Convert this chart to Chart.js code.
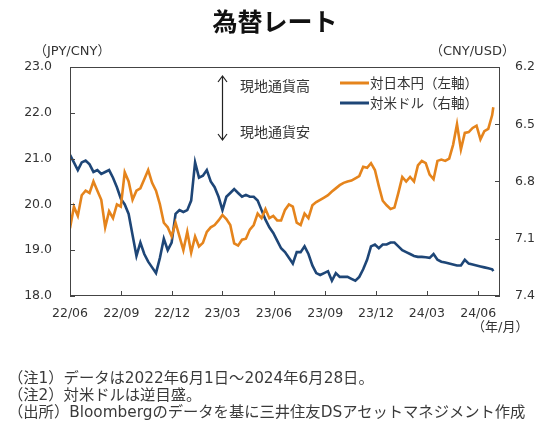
<!DOCTYPE html>
<html>
<head>
<meta charset="utf-8">
<script src="https://cdn.jsdelivr.net/npm/chart.js@4.4.1/dist/chart.umd.min.js"></script>
<style>
  body { margin: 0; background: #fff; }
  #wrap { position: relative; width: 550px; height: 437px; font-family: "Noto Sans CJK JP", sans-serif; color: #333; }
  #wrap canvas { position: absolute; left: 0; top: 0; }
  .t { position: absolute; white-space: nowrap; line-height: 1; }
  #title { left: 0; width: 550px; text-align: center; top: 8px; font-size: 25px; font-weight: 700; color: #111; }
  .unit { top: 44px; font-size: 13px; font-family: "DejaVu Sans", "Noto Sans CJK JP", sans-serif; }
  .note { left: 8px; font-size: 15.3px; font-family: "DejaVu Sans", "Noto Sans CJK JP", sans-serif; color: #3a3a3a; }
</style>
</head>
<body>
<div id="wrap">
  <canvas id="chart" width="550" height="437"></canvas>
  <div class="t" id="title">為替レート</div>
  <div class="t unit" style="left:34px">（JPY/CNY）</div>
  <div class="t unit" style="left:430px">（CNY/USD）</div>
  <div class="t unit" style="left:472px;top:320px">（年/月）</div>
  <div class="t note" style="top:371px">（注1）データは2022年6月1日～2024年6月28日。</div>
  <div class="t note" style="top:388px">（注2）対米ドルは逆目盛。</div>
  <div class="t note" style="top:405px">（出所）Bloombergのデータを基に三井住友DSアセットマネジメント作成</div>
</div>
<script>
// weekly readings from 2022-06-01, last point is 2024-06-28
const jpyCny = [
  19.48, 19.95, 19.75, 20.2, 20.3, 20.25, 20.5, 20.3, 20.1, 19.5,
  19.85, 19.7, 20.0, 19.95, 20.7, 20.5, 20.1, 20.3, 20.35, 20.55,
  20.75, 20.47, 20.3, 20.0, 19.6, 19.5, 19.3, 19.6, 19.3, 19.0,
  19.4, 18.95, 19.3, 19.08, 19.16, 19.4, 19.5, 19.55, 19.65, 19.77,
  19.68, 19.55, 19.15, 19.1, 19.23, 19.25, 19.45, 19.55, 19.8, 19.7,
  19.9, 19.7, 19.75, 19.65, 19.65, 19.88, 20.0, 19.95, 19.6, 19.55,
  19.8, 19.7, 19.98, 20.05, 20.1, 20.15, 20.2, 20.28, 20.35, 20.42,
  20.47, 20.5, 20.52, 20.57, 20.62, 20.82, 20.8, 20.9, 20.75, 20.4,
  20.08, 19.98, 19.9, 19.93, 20.25, 20.6, 20.5, 20.6, 20.5, 20.85,
  20.95, 20.9, 20.65, 20.55, 20.95, 20.98, 20.95, 21.0, 21.3, 21.75,
  21.2, 21.56, 21.58, 21.67, 21.72, 21.42, 21.6, 21.65, 21.95,
  22.12
];
const cnyUsd = [
  6.66, 6.70, 6.74, 6.70, 6.69, 6.71, 6.75, 6.74, 6.76, 6.75,
  6.74, 6.78, 6.83, 6.89, 6.92, 6.97, 7.08, 7.19, 7.12, 7.18,
  7.22, 7.25, 7.28, 7.20, 7.10, 7.16, 7.12, 6.97, 6.95, 6.96,
  6.95, 6.90, 6.70, 6.78, 6.77, 6.74, 6.80, 6.83, 6.88, 6.95,
  6.88, 6.86, 6.84, 6.86, 6.88, 6.87, 6.88, 6.88, 6.90, 6.95,
  7.00, 7.04, 7.07, 7.11, 7.15, 7.17, 7.20, 7.23, 7.17, 7.17,
  7.14, 7.18, 7.24, 7.28, 7.29, 7.28, 7.27, 7.32, 7.28, 7.30,
  7.30, 7.30, 7.31, 7.32, 7.30, 7.26, 7.21, 7.14, 7.13, 7.15,
  7.13, 7.13, 7.12, 7.12, 7.14, 7.16, 7.17, 7.18, 7.19, 7.195,
  7.195, 7.197, 7.20, 7.18, 7.21, 7.22, 7.225, 7.23, 7.235, 7.24,
  7.24, 7.21, 7.23, 7.235, 7.24, 7.245, 7.25, 7.255, 7.26,
  7.27
];
const seriesNames = ['対日本円（左軸）', '対米ドル（右軸）'];
const tickDates = ['2022-06-01','2022-09-01','2022-12-01','2023-03-01','2023-06-01','2023-09-01','2023-12-01','2024-03-01','2024-06-01'];
const tickLabels = ['22/06','22/09','22/12','23/03','23/06','23/09','23/12','24/03','24/06'];
const leftTicks = [18.0, 19.0, 20.0, 21.0, 22.0, 23.0];
const rightTicks = [6.2, 6.5, 6.8, 7.1, 7.4];

const start = Date.UTC(2022, 5, 1);
function dayOf(s) {
  const p = s.split('-');
  return Math.round((Date.UTC(+p[0], +p[1] - 1, +p[2]) - start) / 86400000);
}
const days = [];
for (let i = 0; i < jpyCny.length - 1; i++) days.push(i * 7);
days.push(dayOf('2024-06-28'));
const tickDays = tickDates.map(dayOf);

const ORANGE = '#E5841C';
const BLUE = '#1E4677';
const tickFont = { family: 'DejaVu Sans', size: 12.5 };

const extras = {
  id: 'extras',
  afterDraw(chart) {
    const c = chart.ctx, a = chart.chartArea, s = chart.scales;
    c.save();
    // frame
    c.strokeStyle = '#444'; c.lineWidth = 1;
    c.strokeRect(a.left + 0.5, a.top + 0.5, a.right - a.left - 1, a.bottom - a.top - 1);
    // inward ticks
    c.beginPath();
    tickDays.forEach(d => { const x = Math.round(s.x.getPixelForValue(d)) + 0.5; c.moveTo(x, a.bottom); c.lineTo(x, a.bottom - 5); });
    leftTicks.forEach(v => { const y = Math.round(s.y.getPixelForValue(v)) + 0.5; c.moveTo(a.left, y); c.lineTo(a.left + 5, y); });
    rightTicks.forEach(v => { const y = Math.round(s.y1.getPixelForValue(v)) + 0.5; c.moveTo(a.right, y); c.lineTo(a.right - 5, y); });
    c.stroke();
    // legend
    c.font = '13.5px "Noto Sans CJK JP"';
    c.textBaseline = 'middle';
    chart.data.datasets.forEach((ds, i) => {
      const y = a.top + 16 + i * 20;
      c.strokeStyle = ds.borderColor; c.lineWidth = 3;
      c.beginPath(); c.moveTo(a.left + 270, y); c.lineTo(a.left + 299, y); c.stroke();
      c.fillStyle = '#333';
      c.fillText(ds.label, a.left + 300, y);
    });
    // direction arrow
    const ax = a.left + 152.5, y0 = a.top + 9, y1 = a.top + 73;
    c.strokeStyle = '#222'; c.lineWidth = 1.2;
    c.beginPath();
    c.moveTo(ax, y0); c.lineTo(ax, y1);
    c.moveTo(ax - 4.5, y0 + 6); c.lineTo(ax, y0); c.lineTo(ax + 4.5, y0 + 6);
    c.moveTo(ax - 4.5, y1 - 6); c.lineTo(ax, y1); c.lineTo(ax + 4.5, y1 - 6);
    c.stroke();
    c.fillStyle = '#333';
    c.font = '14px "Noto Sans CJK JP"';
    c.fillText('現地通貨高', a.left + 170, a.top + 19);
    c.fillText('現地通貨安', a.left + 170, a.top + 65);
    c.restore();
  }
};

new Chart(document.getElementById('chart'), {
  type: 'line',
  data: {
    datasets: [
      { label: seriesNames[0], data: days.map((d, i) => ({ x: d, y: jpyCny[i] })), yAxisID: 'y',
        borderColor: ORANGE, borderWidth: 2.6, pointRadius: 0, tension: 0 },
      { label: seriesNames[1], data: days.map((d, i) => ({ x: d, y: cnyUsd[i] })), yAxisID: 'y1',
        borderColor: BLUE, borderWidth: 2.6, pointRadius: 0, tension: 0 }
    ]
  },
  options: {
    responsive: false,
    animation: false,
    layout: { padding: { top: 67, left: 0, right: 0, bottom: 0 } },
    plugins: { legend: { display: false }, tooltip: { enabled: false } },
    scales: {
      x: {
        type: 'linear', min: 0, max: 770,
        afterBuildTicks: sc => { sc.ticks = tickDays.map(v => ({ value: v })); },
        afterFit: sc => { sc.height = 141; },
        ticks: { autoSkip: false, maxRotation: 0, padding: 10, color: '#333', font: tickFont,
          callback: (v) => tickLabels[tickDays.indexOf(v)] },
        grid: { display: false, drawTicks: false },
        border: { display: false }
      },
      y: {
        position: 'left', min: 18, max: 23,
        afterBuildTicks: sc => { sc.ticks = leftTicks.map(v => ({ value: v })); },
        afterFit: sc => { sc.width = 70; },
        ticks: { padding: 18, color: '#333', font: tickFont, callback: v => v.toFixed(1) },
        grid: { display: false, drawTicks: false },
        border: { display: false }
      },
      y1: {
        position: 'right', min: 6.2, max: 7.4, reverse: true,
        afterBuildTicks: sc => { sc.ticks = rightTicks.map(v => ({ value: v })); },
        afterFit: sc => { sc.width = 50; },
        ticks: { padding: 15, color: '#333', font: tickFont, callback: v => v.toFixed(1) },
        grid: { display: false, drawTicks: false },
        border: { display: false }
      }
    }
  },
  plugins: [extras]
});
</script>
</body>
</html>
